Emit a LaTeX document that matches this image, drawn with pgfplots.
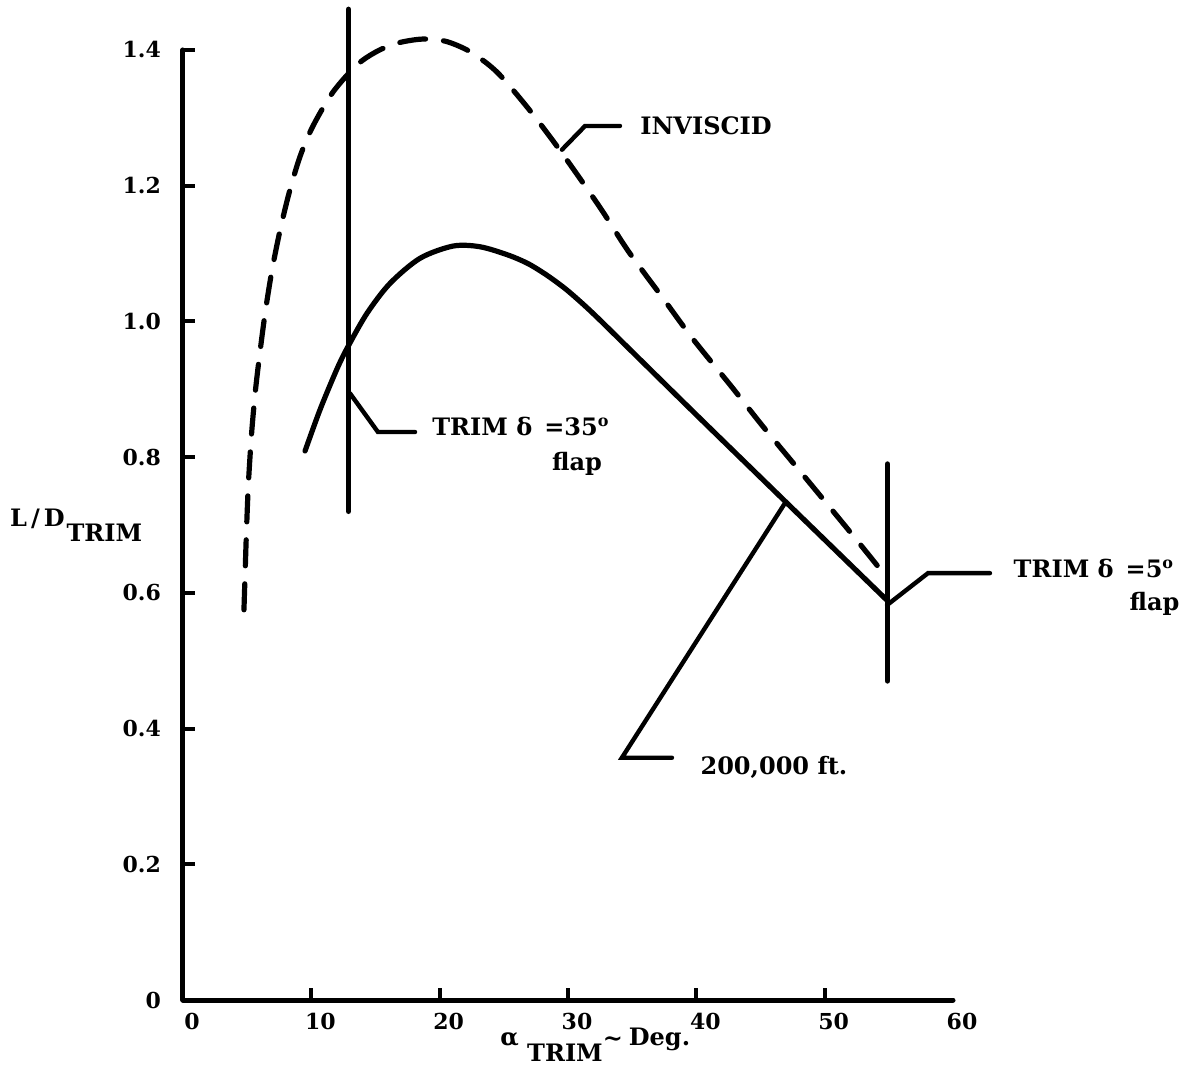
\documentclass[border=0pt]{standalone}
\usepackage{pgfplots}
\pgfplotsset{compat=1.18}
\usepackage{fontspec}
\setmainfont{DejaVu Serif}
\begin{document}
\begin{tikzpicture}
\path[use as bounding box] (-91.5pt,-39pt) rectangle (510.5pt,500pt);
\begin{axis}[
 anchor=origin, at={(0pt,0pt)},
 x=6.4167pt, y=339.3pt,
 xmin=0, xmax=60, ymin=0, ymax=1.4,
 axis x line=bottom, axis y line=left,
 axis line style={-, line width=2.5pt, line cap=round},
 clip=false,
 xtick={0,10,20,30,40,50},
 extra x ticks={60}, extra x tick style={major tick length=0pt},
 ytick={0.2,0.4,0.6,0.8,1.0,1.2,1.4},
 extra y ticks={0}, extra y tick style={major tick length=0pt, yticklabel={0}},
 tick align=inside, major tick length=6pt,
 tick style={line width=2pt, black},
 font=\fontsize{12}{14}\selectfont\bfseries,
 ticklabel style={font=\fontsize{11}{13}\selectfont\bfseries},
 /pgf/number format/assume math mode=true,
 /pgf/number format/fixed, /pgf/number format/fixed zerofill, /pgf/number format/precision=1,
 yticklabel style={xshift=-7.5pt},
 xticklabel style={xshift=4.5pt, yshift=-3pt, /pgf/number format/precision=0},
]
% INVISCID (dashed)
\addplot[black, line width=2.6pt, line cap=round, dash pattern=on 13pt off 9pt, smooth, tension=0.5] coordinates {
(4.75,0.575) (4.83,0.623) (4.95,0.693) (5.10,0.762) (5.35,0.836) (5.65,0.899)
(6.00,0.955) (6.42,1.015) (6.94,1.076) (7.55,1.133) (8.25,1.188) (9.12,1.243)
(10.13,1.288) (11.69,1.338) (13.56,1.378) (15.12,1.398) (16.68,1.410) (18.62,1.416)
(20.42,1.413) (22.13,1.400) (23.70,1.380) (24.94,1.358) (27.19,1.307) (29.53,1.248)
(32.49,1.168) (34.68,1.104) (37.33,1.036) (39.74,0.974) (42.78,0.903) (45.20,0.845)
(48.31,0.774) (51.58,0.699) (53.30,0.659) (54.70,0.626)};
% 200,000 ft (solid)
\addplot[black, line width=2.6pt, line cap=round, smooth, tension=0.5] coordinates {
(9.51,0.809) (10.68,0.870) (12.00,0.930) (12.86,0.963) (14.34,1.012) (16.13,1.056)
(18.47,1.093) (21.04,1.111) (23.14,1.110) (25.30,1.098) (26.90,1.085) (28.36,1.068)
(29.80,1.048) (31.20,1.025) (32.49,1.002) (35.07,0.954) (40.29,0.857) (46.75,0.738) (54.86,0.589)};
% trim lines
\addplot[black, line width=2.6pt, line cap=round] coordinates {(12.9,1.46) (12.9,0.72)};
\addplot[black, line width=2.6pt, line cap=round] coordinates {(54.9,0.79) (54.9,0.47)};
% leaders
\addplot[black, line width=2.2pt, line cap=round] coordinates {(29.53,1.253) (31.33,1.288) (34.05,1.288)};
\addplot[black, line width=2.2pt, line cap=round] coordinates {(13.01,0.894) (15.19,0.837) (18.08,0.837)};
\addplot[black, line width=2.2pt, line cap=round] coordinates {(54.86,0.582) (58.05,0.629) (62.88,0.629)};
\addplot[black, line width=2.2pt, line cap=round] coordinates {(46.9,0.732) (34.2,0.357) (38.1,0.357)};
% texts
\node[anchor=west, inner sep=0pt] at (axis cs:35.6,1.288) {INVISCID};
\node[anchor=west, inner sep=0pt] at (axis cs:19.4,0.845) {TRIM δ\enspace=35\textsuperscript{o}};
\node[inner sep=0pt] at (axis cs:30.7,0.79) {flap};
\node[anchor=west, inner sep=0pt] at (axis cs:64.7,0.636) {TRIM δ\enspace=5\textsuperscript{o}};
\node[inner sep=0pt] at (axis cs:75.7,0.584) {flap};
\node[anchor=west, inner sep=0pt] at (axis cs:40.3,0.343) {200,000 ft.};
\node[anchor=west, inner sep=0pt] at (axis cs:-13.5,0.70) {L\kern2pt/\kern2pt D\kern1pt\raisebox{-1.2ex}{TRIM}};
\node[anchor=west, inner sep=0pt] at (axis cs:24.7,-0.066) {α\ \raisebox{-1.3ex}{TRIM}\raisebox{-0.1ex}{\textasciitilde}\kern3pt Deg.};
\end{axis}
\end{tikzpicture}
\end{document}
